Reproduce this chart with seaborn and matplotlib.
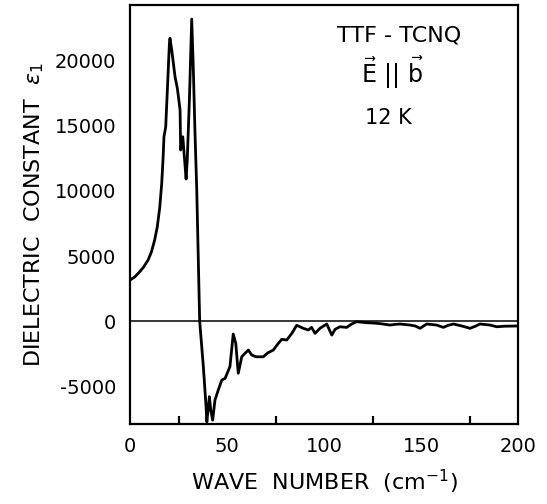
import matplotlib
matplotlib.use("Agg")
import matplotlib.pyplot as plt
import seaborn as sns
import pandas as pd

# Real part of the dielectric function of TTF-TCNQ, E parallel to b, at 12 K
wave_number = [0, 2.5, 5, 7, 9.3, 11, 12.7, 14, 15.3, 16.3, 17, 17.5, 18.4, 19.4,
               20.3, 20.6, 21.5, 23.2, 24.4, 25.8, 26.1, 27.2, 28.9, 29.5, 30.6,
               31.8, 32.6, 33.5, 34.4, 35.9, 37.8, 39.2, 39.6, 40.9, 41.6, 42.6,
               43.8, 45.5, 47.3, 49, 51.5, 53.2, 54.5, 55.8, 57.6, 59.3, 61, 62.7,
               65, 68.7, 71, 73.9, 76, 78.2, 80.8, 83.4, 85.9, 87.6, 89.3, 91.9,
               93.6, 95.4, 97.9, 101.4, 104, 105.7, 108.2, 111.7, 114, 116.8, 120,
               122, 125, 128.9, 134, 136.5, 139.2, 144.3, 147, 149.5, 152.9, 158.1,
               161.5, 164, 166.7, 171, 175.3, 178, 180.4, 185.6, 189, 193, 200]
epsilon_1 = [3150, 3400, 3790, 4150, 4690, 5300, 6230, 7200, 8700, 10500, 12380,
             14170, 14940, 18280, 21350, 21740, 20840, 18790, 17890, 16230, 13150,
             14170, 10920, 12380, 17000, 23220, 19560, 14430, 10070, 0, -3510,
             -6590, -7750, -5820, -6840, -7620, -6070, -5300, -4540, -4410, -3510,
             -1000, -1710, -4020, -2750, -2480, -2230, -2610, -2750, -2750, -2450,
             -2230, -1800, -1410, -1460, -950, -330, -440, -560, -690, -490, -950,
             -560, -230, -1080, -640, -440, -490, -250, -50, -100, -130, -150,
             -200, -310, -260, -230, -310, -380, -560, -230, -310, -490, -330,
             -230, -380, -560, -400, -230, -310, -440, -400, -380]

x_ticks = [0, 50, 100, 150, 200]
y_ticks = [-5000, 0, 5000, 10000, 15000, 20000]

sns.set_theme(style="white")
plt.rcParams["font.family"] = ["DejaVu Sans"]
plt.rcParams["axes.unicode_minus"] = False
plt.rcParams["mathtext.fontset"] = "dejavusans"

df = pd.DataFrame({"wave_number": wave_number, "epsilon_1": epsilon_1})

fig = plt.figure(figsize=(5.47, 5.04), dpi=100)
ax = fig.add_axes([0.2377, 0.1587, 0.7093, 0.8313])

ax.axhline(0, color="black", lw=1.1, zorder=1)
sns.lineplot(data=df, x="wave_number", y="epsilon_1", ax=ax, color="black",
             lw=2.0, sort=False, estimator=None, zorder=2)

ax.set_xlim(0, 200)
ax.set_ylim(-7920, 24300)
ax.set_xticks(x_ticks)
ax.set_xticks([25, 75, 125, 175], minor=True)
ax.set_yticks(y_ticks)
ax.set_xticklabels([str(t) for t in x_ticks])
ax.set_yticklabels([str(t) for t in y_ticks])

for side in ax.spines.values():
    side.set_color("black")
    side.set_linewidth(1.6)

ax.tick_params(axis="both", which="major", direction="in", length=10, width=1.6,
               color="black", labelsize=14, labelcolor="black")
ax.tick_params(axis="x", which="major", pad=9)
ax.tick_params(axis="y", which="major", pad=10)
ax.tick_params(axis="x", which="minor", direction="in", length=6, width=1.6,
               color="black", bottom=True)

ax.set_xlabel(r"WAVE  NUMBER  (cm$^{-1}$)", fontsize=16, color="black", labelpad=9)
ax.set_ylabel(r"DIELECTRIC  CONSTANT  $\varepsilon_1$", fontsize=16, color="black",
              labelpad=6)

ax.text(0.693, 0.928, "TTF - TCNQ", transform=ax.transAxes, ha="center",
        va="center", fontsize=16, color="black")
ax.text(0.675, 0.838, r"$\vec{\mathsf{E}}\ ||\ \vec{\mathsf{b}}$", transform=ax.transAxes,
        ha="center", va="center", fontsize=17, color="black")
ax.text(0.665, 0.730, "12 K", transform=ax.transAxes, ha="center", va="center",
        fontsize=15, color="black")

fig.savefig("out.png", dpi=100, facecolor="white")
